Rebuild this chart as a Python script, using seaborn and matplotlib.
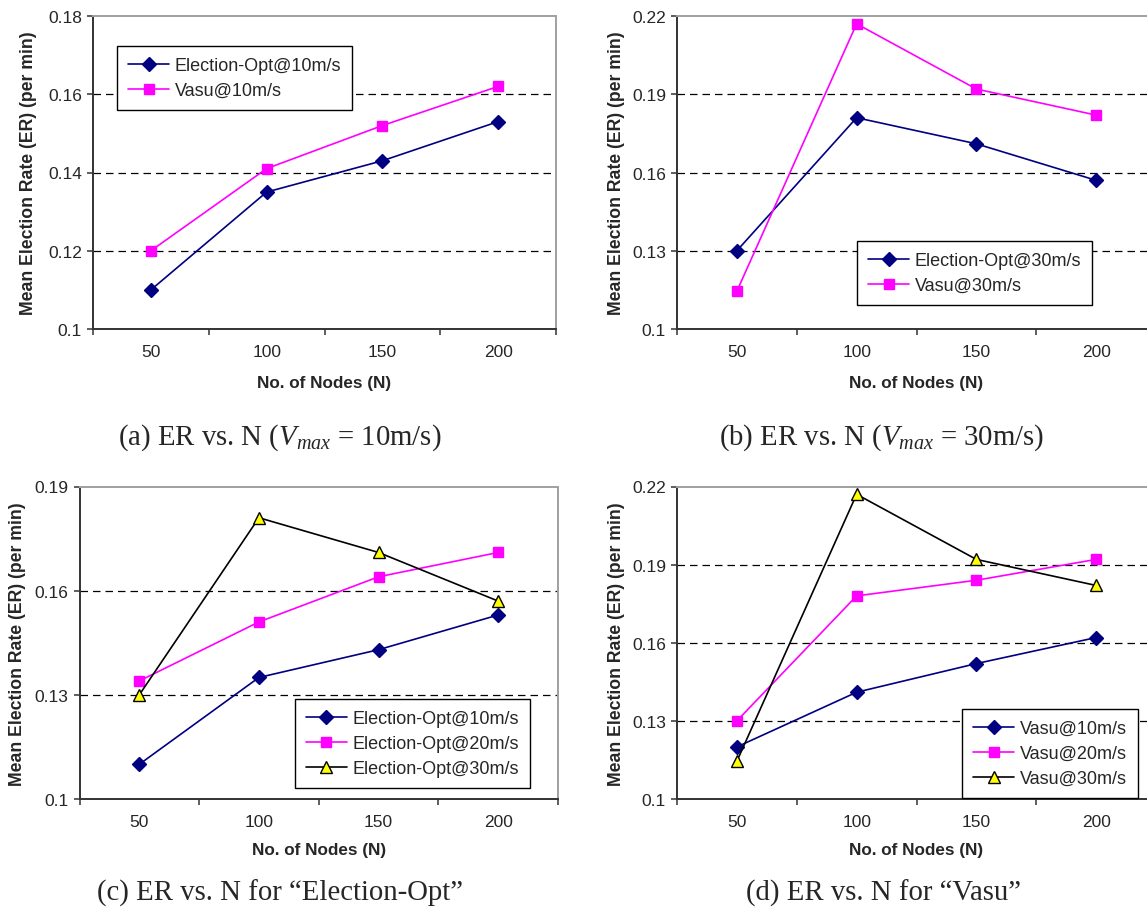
import pandas as pd
import seaborn as sns
import matplotlib as mpl
from matplotlib import pyplot as plt
from matplotlib import font_manager

sns.set_style("white")
mpl.rcParams["font.family"] = ["Liberation Sans", "DejaVu Sans"]
mpl.rcParams["mathtext.fontset"] = "custom"
mpl.rcParams["mathtext.rm"] = "Liberation Serif"
mpl.rcParams["mathtext.it"] = "Liberation Serif:italic"

NODES = [50, 100, 150, 200]

# mean election rate (per min)
EO_10 = [0.110, 0.135, 0.143, 0.153]
EO_20 = [0.134, 0.151, 0.164, 0.171]
EO_30 = [0.130, 0.181, 0.171, 0.157]
VASU_10 = [0.120, 0.141, 0.152, 0.162]
VASU_20 = [0.130, 0.178, 0.184, 0.192]
VASU_30 = [0.1145, 0.217, 0.192, 0.182]

YTICKS_A = [0.10, 0.12, 0.14, 0.16, 0.18]
YTICKS_B = [0.10, 0.13, 0.16, 0.19, 0.22]
YTICKS_C = [0.10, 0.13, 0.16, 0.19]

NAVY = "#000080"
MAGENTA = "#FF00FF"
YELLOW = "#FFFF00"
# style of 1st / 2nd / 3rd series in every panel
LINE_COLORS = [NAVY, MAGENTA, "black"]
MARKERS = ["D", "s", "^"]
FACE_COLORS = [NAVY, MAGENTA, YELLOW]
MARKER_SIZES = [7, 7.5, 8.5]

_available = {f.name for f in font_manager.fontManager.ttflist}
if "Liberation Sans Narrow" in _available:
    XLABEL_FONT, XLABEL_SIZE = "Liberation Sans Narrow", 14
else:
    XLABEL_FONT, XLABEL_SIZE = "Liberation Sans", 12.3

W, H = 1147, 920


def draw_panel(rect, names, series, yticks, legend_xy, ylabel_x, xlabel_y):
    ax = fig.add_axes(rect)
    df = pd.DataFrame({
        "N": NODES * len(series),
        "ER": [v for s in series for v in s],
        "series": [n for n in names for _ in NODES],
    })
    n = len(names)
    sns.pointplot(
        data=df, x="N", y="ER", hue="series", hue_order=names,
        palette=LINE_COLORS[:n], markers=MARKERS[:n], linestyles="-",
        errorbar=None, legend=False, ax=ax, linewidth=1.2,
    )
    handles = list(ax.lines[:n])
    for i, line in enumerate(handles):
        line.set_markerfacecolor(FACE_COLORS[i])
        line.set_markeredgecolor(LINE_COLORS[i])
        line.set_markersize(MARKER_SIZES[i])
        line.set_markeredgewidth(1.0)
        line.set_linewidth(1.2)
        line.set_zorder(3)
        line.set_clip_on(False)

    # dashed gridlines at the inner y ticks
    for t in yticks[1:-1]:
        ax.axhline(t, color="black", lw=0.9, ls=(0, (6, 4)), zorder=1)

    ax.set_ylim(yticks[0], yticks[-1])
    ax.set_yticks(yticks)
    ax.set_yticklabels([f"{t:g}" for t in yticks])
    ax.set_xlim(-0.5, len(NODES) - 0.5)
    ax.set_xticks([i - 0.5 for i in range(len(NODES) + 1)], minor=True)
    ax.tick_params(axis="x", which="major", length=0, pad=11, labelsize=12.5)
    ax.tick_params(axis="x", which="minor", length=4, width=1.1,
                   direction="out", color="#333333", bottom=True)
    ax.tick_params(axis="y", length=4, width=1.1, direction="out",
                   color="#333333", pad=4, labelsize=12.5, left=True)

    for side in ["left", "bottom"]:
        ax.spines[side].set_color("#333333")
        ax.spines[side].set_linewidth(1.4)
    for side in ["top", "right"]:
        ax.spines[side].set_color("#a0a0a0")
        ax.spines[side].set_linewidth(1.4)

    ax.set_ylabel("Mean Election Rate (ER) (per min)", fontsize=12.7,
                  fontweight="bold")
    ax.yaxis.set_label_coords(ylabel_x, 0.5)
    ax.set_xlabel("No. of Nodes (N)", fontsize=XLABEL_SIZE, fontweight="bold",
                  family=XLABEL_FONT)
    ax.xaxis.set_label_coords(0.5, xlabel_y)

    leg = ax.legend(
        handles, names, loc="upper left", bbox_to_anchor=legend_xy,
        borderaxespad=0, fancybox=False, framealpha=1, edgecolor="black",
        fontsize=13, handlelength=2.3, handletextpad=0.3, labelspacing=0.45,
        borderpad=0.6,
    )
    leg.get_frame().set_linewidth(1.0)
    leg.set_zorder(5)
    return ax


def rect_px(left, top, right, bottom):
    return [left / W, 1 - bottom / H, (right - left) / W, (bottom - top) / H]


fig = plt.figure(figsize=(W / 100, H / 100), dpi=100)

draw_panel(rect_px(93, 17, 556, 330),
           ["Election-Opt@10m/s", "Vasu@10m/s"], [EO_10, VASU_10],
           YTICKS_A, (0.052, 0.904), -0.121, -0.147)
draw_panel(rect_px(677, 17, 1156, 330),
           ["Election-Opt@30m/s", "Vasu@30m/s"], [EO_30, VASU_30],
           YTICKS_B, (0.376, 0.281), -0.109, -0.147)
draw_panel(rect_px(79.5, 487.5, 558, 800),
           ["Election-Opt@10m/s", "Election-Opt@20m/s", "Election-Opt@30m/s"],
           [EO_10, EO_20, EO_30],
           YTICKS_C, (0.450, 0.32), -0.112, -0.138)
draw_panel(rect_px(677, 487.5, 1156, 800),
           ["Vasu@10m/s", "Vasu@20m/s", "Vasu@30m/s"],
           [VASU_10, VASU_20, VASU_30],
           YTICKS_B, (0.595, 0.288), -0.109, -0.138)

cap = dict(ha="center", va="center", fontsize=20.7, family="Liberation Serif")
fig.text(280 / W, 1 - 438 / H, r"(a) ER vs. N ($V_{max}$ = 10m/s)", **cap)
fig.text(882 / W, 1 - 438 / H, r"(b) ER vs. N ($V_{max}$ = 30m/s)", **cap)
fig.text(280 / W, 1 - 893 / H, "(c) ER vs. N for \u201cElection-Opt\u201d", **cap)
fig.text(884 / W, 1 - 893 / H, "(d) ER vs. N for \u201cVasu\u201d", **cap)

fig.savefig("out.png", dpi=100)
